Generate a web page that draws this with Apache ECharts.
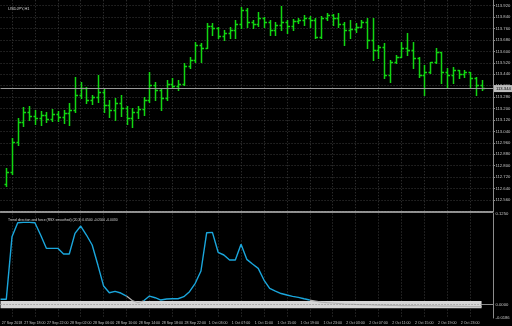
<!DOCTYPE html>
<html><head><meta charset="utf-8">
<script src="https://cdn.jsdelivr.net/npm/echarts@6/dist/echarts.min.js"></script>
<style>html,body{margin:0;padding:0;background:#000}#c{width:512px;height:326px}</style>
</head><body><div id="c"></div>
<script>
const symbolTitle = 'USDJPY,H1';
const indicatorTitle = 'Trend direction and force (RSX smoothed) (20,3) 0.0500 -0.0500 -0.0030';

const categories = [
 '27 Sep 12:00','27 Sep 13:00','27 Sep 14:00','27 Sep 15:00','27 Sep 16:00','27 Sep 17:00','27 Sep 18:00','27 Sep 19:00','27 Sep 20:00','27 Sep 21:00','27 Sep 22:00','27 Sep 23:00',
 '28 Sep 00:00','28 Sep 01:00','28 Sep 02:00','28 Sep 03:00','28 Sep 04:00','28 Sep 05:00','28 Sep 06:00','28 Sep 07:00','28 Sep 08:00','28 Sep 09:00','28 Sep 10:00','28 Sep 11:00',
 '28 Sep 12:00','28 Sep 13:00','28 Sep 14:00','28 Sep 15:00','28 Sep 16:00','28 Sep 17:00','28 Sep 18:00','28 Sep 19:00','28 Sep 20:00','28 Sep 21:00','28 Sep 22:00',
 '1 Oct 00:00','1 Oct 01:00','1 Oct 02:00','1 Oct 03:00','1 Oct 04:00','1 Oct 05:00','1 Oct 06:00','1 Oct 07:00','1 Oct 08:00','1 Oct 09:00','1 Oct 10:00','1 Oct 11:00',
 '1 Oct 12:00','1 Oct 13:00','1 Oct 14:00','1 Oct 15:00','1 Oct 16:00','1 Oct 17:00','1 Oct 18:00','1 Oct 19:00','1 Oct 20:00','1 Oct 21:00','1 Oct 22:00','1 Oct 23:00',
 '2 Oct 00:00','2 Oct 01:00','2 Oct 02:00','2 Oct 03:00','2 Oct 04:00','2 Oct 05:00','2 Oct 06:00','2 Oct 07:00','2 Oct 08:00','2 Oct 09:00','2 Oct 10:00','2 Oct 11:00',
 '2 Oct 12:00','2 Oct 13:00','2 Oct 14:00','2 Oct 15:00','2 Oct 16:00','2 Oct 17:00','2 Oct 18:00','2 Oct 19:00','2 Oct 20:00','2 Oct 21:00','2 Oct 22:00','2 Oct 23:00',
 '3 Oct 00:00','3 Oct 01:00','3 Oct 02:00','3 Oct 03:00'
];

const timeLabels = ['27 Sep 2018','27 Sep 18:00','27 Sep 22:00','28 Sep 02:00','28 Sep 06:00','28 Sep 10:00','28 Sep 14:00','28 Sep 18:00','28 Sep 22:00',
 '1 Oct 03:00','1 Oct 07:00','1 Oct 11:00','1 Oct 15:00','1 Oct 19:00','1 Oct 23:00',
 '2 Oct 03:00','2 Oct 07:00','2 Oct 11:00','2 Oct 15:00','2 Oct 19:00','2 Oct 23:00','3 Oct 03:00'];

const priceOpen = [null,
 112.672,112.756,112.966,113.106,113.176,113.148,113.134,113.155,113.127,113.162,113.141,113.169,113.190,113.295,113.344,113.260,113.281,113.316,113.225,113.190,
 113.239,113.204,113.134,113.176,113.197,113.260,113.365,113.330,113.274,113.372,113.358,113.372,113.498,113.540,113.645,113.624,113.778,113.764,113.708,113.729,
 113.750,113.792,113.890,113.806,113.792,113.834,113.806,113.750,113.785,113.806,113.778,113.813,113.820,113.834,113.820,113.701,113.834,113.855,113.834,113.792,
 113.750,113.757,113.771,113.806,113.680,113.610,113.631,113.435,113.526,113.561,113.624,113.610,113.554,113.435,113.456,113.526,113.596,113.456,113.435,113.470,
 113.442,113.456,113.414,113.365, null, null];
const priceHigh = [null,
 112.784,112.994,113.134,113.211,113.218,113.190,113.183,113.176,113.197,113.183,113.190,113.239,113.421,113.386,113.351,113.295,113.435,113.344,113.260,113.274,
 113.295,113.218,113.204,113.218,113.281,113.456,113.386,113.344,113.400,113.414,113.400,113.519,113.561,113.666,113.659,113.799,113.799,113.771,113.750,113.771,
 113.820,113.911,113.904,113.820,113.876,113.841,113.820,113.806,113.918,113.820,113.827,113.834,113.855,113.848,113.834,113.848,113.869,113.862,113.869,113.806,
 113.820,113.799,113.820,113.834,113.834,113.645,113.659,113.540,113.575,113.666,113.729,113.666,113.561,113.505,113.526,113.624,113.596,113.484,113.491,113.470,
 113.470,113.456,113.421,113.400, null, null];
const priceLow = [null,
 112.658,112.742,112.945,113.078,113.120,113.092,113.085,113.106,113.113,113.113,113.099,113.085,113.176,113.274,113.239,113.232,113.246,113.176,113.141,113.120,
 113.148,113.092,113.071,113.134,113.155,113.246,113.260,113.190,113.260,113.344,113.330,113.365,113.484,113.526,113.526,113.624,113.715,113.694,113.680,113.694,
 113.694,113.764,113.771,113.764,113.778,113.771,113.715,113.715,113.750,113.729,113.750,113.799,113.785,113.771,113.694,113.694,113.820,113.785,113.771,113.645,
 113.694,113.736,113.771,113.624,113.540,113.554,113.414,113.386,113.519,113.561,113.575,113.484,113.421,113.295,113.449,113.519,113.379,113.351,113.379,113.414,
 113.421,113.344,113.295,113.330, null, null];
const priceClose = [null,
 112.756,112.966,113.106,113.176,113.148,113.134,113.155,113.127,113.162,113.141,113.169,113.190,113.295,113.344,113.260,113.281,113.316,113.225,113.190,113.239,
 113.204,113.134,113.176,113.197,113.260,113.365,113.330,113.274,113.372,113.358,113.372,113.498,113.540,113.645,113.624,113.778,113.764,113.708,113.729,113.750,
 113.792,113.890,113.806,113.792,113.834,113.806,113.750,113.785,113.806,113.778,113.813,113.820,113.834,113.820,113.701,113.834,113.855,113.834,113.792,113.750,
 113.757,113.771,113.806,113.680,113.610,113.631,113.435,113.526,113.561,113.624,113.610,113.554,113.435,113.456,113.526,113.596,113.456,113.435,113.470,113.442,
 113.456,113.414,113.365,113.344, null, null];

const trendForce = [
 0.0072,0.0072,0.0936,0.1130,0.1135,0.1135,0.1130,0.0960,0.0776,0.0776,0.0776,0.0697,0.0697,0.0983,0.1084,0.0960,0.0822,0.0545,0.0255,0.0163,
 0.0182,0.0159,0.0117,0.0055,0.0025,0.0052,0.0117,0.0094,0.0062,0.0076,0.0079,0.0080,0.0108,0.0177,0.0293,0.0463,0.0992,0.0997,0.0721,0.0684,
 0.0615,0.0615,0.0831,0.0624,0.0559,0.0500,0.0338,0.0224,0.0186,0.0152,0.0131,0.0113,0.0099,0.0080,0.0062,0.0048,0.0032,0.0026,0.0021,0.0014,
 0.0007,0.0004,0.0001,-0.0001,-0.0003,-0.0004,-0.0007,-0.0008,-0.0011,-0.0012,-0.0014,-0.0014,-0.0015,-0.0017,-0.0018,-0.0019,-0.0019,-0.0021,-0.0022,-0.0023,
 -0.0025,-0.0026,-0.0028,-0.0029,-0.0030, null, null];
// category index ranges where the trend line is drawn in the neutral (grey) colour
const neutralRanges = [[22, 25], [54, 84]];
const bandLevels = [0.005, -0.005];
const priceAxis = {min: 112.48, max: 114.00, step: 0.08};
const indicatorAxis = {min: -0.0186, max: 0.1257, labels: [0.125, 0, -0.0186]};

const GREEN = '#12d612';
const GRID_COL = '#3c3c3c';
const TEXT_COL = '#c4c4c4';
const FONT = 'Liberation Sans';

const barData = [];
priceOpen.forEach((o, j) => {
  if (o !== null) barData.push([j, o, priceHigh[j], priceLow[j], priceClose[j]]);
});
let lastJ = 0;
priceClose.forEach((c, j) => { if (c !== null) lastJ = j; });
const lastClose = priceClose[lastJ];

function inNeutral(j) { return neutralRanges.some(r => j >= r[0] && j <= r[1]); }
function strictlyNeutral(j) { return neutralRanges.some(r => j > r[0] && j < r[1]); }
const trendData = trendForce.map((v, j) => (v === null || strictlyNeutral(j)) ? '-' : v);
const neutralData = trendForce.map((v, j) => (v === null || !inNeutral(j)) ? '-' : v);

const isLabelIdx = (idx) => idx % 4 === 2;
const splitStyle = {show: true, interval: isLabelIdx, lineStyle: {color: GRID_COL, type: [1, 2], width: 1}};

function renderBar(params, api) {
  const x = api.value(0);
  const o = api.coord([x, api.value(1)]);
  const h = api.coord([x, api.value(2)]);
  const l = api.coord([x, api.value(3)]);
  const c = api.coord([x, api.value(4)]);
  const cx = Math.round(o[0]) + 0.5;
  const t = 2;
  const style = {stroke: GREEN, lineWidth: 1.5};
  const oy = Math.round(o[1]) + 0.5, cy = Math.round(c[1]) + 0.5;
  return {type: 'group', children: [
    {type: 'line', shape: {x1: cx, y1: Math.round(h[1]), x2: cx, y2: Math.round(l[1]) + 1}, style: style},
    {type: 'line', shape: {x1: cx - t, y1: oy, x2: cx, y2: oy}, style: style},
    {type: 'line', shape: {x1: cx, y1: cy, x2: cx + t + 0.5, y2: cy}, style: style}
  ]};
}

const chart = echarts.init(document.getElementById('c'), null, {renderer: 'canvas'});
chart.setOption({
  backgroundColor: '#000',
  animation: false,
  title: [
    {text: symbolTitle, left: 3, top: 2, textStyle: {color: '#d4d4d4', fontSize: 4, fontWeight: 'normal', fontFamily: FONT}},
    {text: indicatorTitle, left: 3, top: 213.5, textStyle: {color: '#d4d4d4', fontSize: 3.4, fontWeight: 'normal', fontFamily: FONT}}
  ],
  grid: [
    {left: 0.55, right: 19, top: -5.71, height: 217.14, outerBoundsMode: 'none', containLabel: false},
    {left: 0.55, right: 19, top: 213.5, bottom: 8, outerBoundsMode: 'none', containLabel: false}
  ],
  xAxis: [
    {gridIndex: 0, type: 'category', data: categories, boundaryGap: false,
     axisLine: {show: true, lineStyle: {color: '#bdbdbd', width: 1.5}},
     axisTick: {show: false}, axisLabel: {show: false}, splitLine: splitStyle},
    {gridIndex: 1, type: 'category', data: categories, boundaryGap: false,
     axisLine: {show: true, lineStyle: {color: '#8c8c8c', width: 1}},
     axisTick: {show: false},
     axisLabel: {interval: isLabelIdx, formatter: (v, idx) => timeLabels[(idx - 2) / 4],
                 fontSize: 3.6, color: TEXT_COL, margin: 2.5, fontFamily: FONT, alignMaxLabel: 'right'},
     splitLine: splitStyle}
  ],
  yAxis: [
    {gridIndex: 0, type: 'value', position: 'right', min: priceAxis.min, max: priceAxis.max, interval: priceAxis.step,
     axisLine: {show: true, lineStyle: {color: '#8c8c8c'}},
     axisTick: {show: true, length: 2, lineStyle: {color: '#8c8c8c'}},
     axisLabel: {showMinLabel: false, showMaxLabel: false, formatter: v => v.toFixed(3),
                 fontSize: 4.2, color: TEXT_COL, margin: 2.5, fontFamily: FONT},
     splitLine: {show: true, lineStyle: {color: GRID_COL, type: [1, 2], width: 1}}},
    {gridIndex: 1, type: 'value', position: 'right', min: indicatorAxis.min, max: indicatorAxis.max,
     axisLine: {show: true, lineStyle: {color: '#8c8c8c'}},
     axisTick: {show: false},
     axisLabel: {customValues: indicatorAxis.labels, formatter: v => v.toFixed(4),
                 fontSize: 4.2, color: TEXT_COL, margin: 2.5, fontFamily: FONT},
     splitLine: {show: false}}
  ],
  series: [
    {type: 'custom', xAxisIndex: 0, yAxisIndex: 0, data: barData, renderItem: renderBar,
     encode: {x: 0, y: [1, 2, 3, 4]}, clip: true, z: 4,
     markLine: {silent: true, symbol: 'none', animation: false,
       lineStyle: {color: '#9a9a9a', type: 'solid', width: 1},
       label: {show: true, position: 'end', formatter: () => lastClose.toFixed(3), distance: 1,
               backgroundColor: '#bcbcbc', color: '#000', fontSize: 4.2, padding: [1.5, 2, 1.5, 2], fontFamily: FONT},
       data: [{yAxis: lastClose}]}},
    {type: 'line', xAxisIndex: 1, yAxisIndex: 1, data: neutralData, symbol: 'none', z: 3,
     lineStyle: {color: '#b2b2b2', width: 1.2},
     markArea: {silent: true, itemStyle: {color: '#d6d6d6'},
       data: [[{xAxis: categories[0], yAxis: bandLevels[0]}, {xAxis: categories[lastJ], yAxis: bandLevels[1]}]]},
     markLine: {silent: true, symbol: 'none', animation: false, label: {show: false},
       lineStyle: {color: '#8a8a8a', type: [1, 2], width: 1},
       data: [[{coord: [categories[0], 0]}, {coord: [categories[lastJ], 0]}]]}},
    {type: 'line', xAxisIndex: 1, yAxisIndex: 1, data: trendData, symbol: 'none', z: 4,
     lineStyle: {color: '#1aa6dc', width: 1.4}}
  ]
});
</script>
</body></html>
